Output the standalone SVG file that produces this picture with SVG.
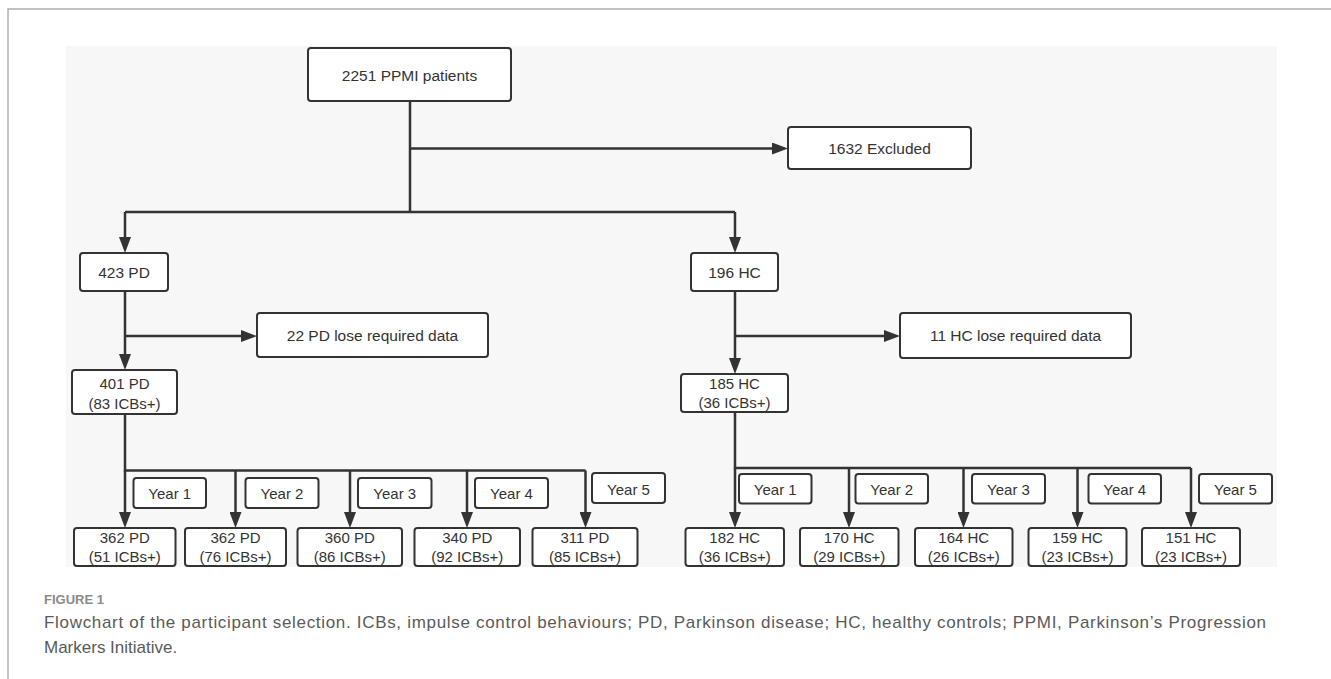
<svg xmlns="http://www.w3.org/2000/svg" width="1331" height="679" viewBox="0 0 1331 679">
<defs>
<marker id="ah" markerWidth="16" markerHeight="12" refX="8" refY="6" orient="auto" markerUnits="userSpaceOnUse"><path d="M0,0 L16,6 L0,12 z" fill="#333"/></marker>
<style>
.box{fill:#fff;stroke:#333;stroke-width:2;}
.t{font-family:"Liberation Sans",Arial,sans-serif;font-size:15.5px;fill:#333;text-anchor:middle;}
.s{font-family:"Liberation Sans",Arial,sans-serif;font-size:15px;fill:#333;text-anchor:middle;}
.ln{fill:none;stroke:#333;stroke-width:2.5;}
.arr{fill:none;stroke:#333;stroke-width:2.5;marker-end:url(#ah);}
.cap{font-family:"Liberation Sans",Arial,sans-serif;font-size:17px;fill:#5a5a5a;}
.fig{font-family:"Liberation Sans",Arial,sans-serif;font-size:13px;font-weight:bold;fill:#8a8a8a;}
</style>
</defs>
<rect x="0" y="0" width="1331" height="679" fill="#fff"/>
<path d="M8,679 V9 H1331" fill="none" stroke="#b0b0b0" stroke-width="1.5"/>
<rect x="66" y="46" width="1211" height="521" fill="#f7f7f7"/>

<g id="connectors">
<path class="ln" d="M410,101 V212"/>
<path class="arr" d="M410,148.5 H780"/>
<path class="ln" d="M125,212 H735"/>
<path class="arr" d="M125,212 V245"/>
<path class="arr" d="M735,212 V245"/>
<path class="arr" d="M125,291 V362"/>
<path class="arr" d="M125,336 H249"/>
<path class="arr" d="M735,291 V366"/>
<path class="arr" d="M735,336 H892"/>
<path class="ln" d="M125,414 V470.5 H585.5"/>
<path class="arr" d="M125,470.5 V520"/>
<path class="arr" d="M235.5,470.5 V520"/>
<path class="arr" d="M350,470.5 V520"/>
<path class="arr" d="M467,470.5 V520"/>
<path class="arr" d="M585.5,470.5 V520"/>
<path class="ln" d="M735,412 V468 H1191"/>
<path class="arr" d="M735,468 V520"/>
<path class="arr" d="M849,468 V520"/>
<path class="arr" d="M963.5,468 V520"/>
<path class="arr" d="M1077.5,468 V520"/>
<path class="arr" d="M1191,468 V520"/>
</g>

<g id="n-ppmi"><rect class="box" x="308" y="48" width="203" height="53" rx="3"/><text class="t" x="409.5" y="81">2251 PPMI patients</text></g>
<g id="n-excluded"><rect class="box" x="788" y="127" width="183" height="42" rx="3"/><text class="t" x="879.5" y="153.5">1632 Excluded</text></g>
<g id="n-pd423"><rect class="box" x="80" y="253" width="88" height="38" rx="3"/><text class="t" x="124" y="278">423 PD</text></g>
<g id="n-pd-lost"><rect class="box" x="257" y="313" width="231" height="44" rx="3"/><text class="t" x="372.5" y="341">22 PD lose required data</text></g>
<g id="n-pd401"><rect class="box" x="72" y="370" width="105" height="44" rx="3"/><text class="s" x="124.5" y="388.5">401 PD</text><text class="s" x="124.5" y="408.5">(83 ICBs+)</text></g>
<g id="n-hc196"><rect class="box" x="691" y="253" width="87" height="38" rx="3"/><text class="t" x="734.5" y="278">196 HC</text></g>
<g id="n-hc-lost"><rect class="box" x="900" y="313" width="231" height="45" rx="3"/><text class="t" x="1015.5" y="341">11 HC lose required data</text></g>
<g id="n-hc185"><rect class="box" x="681" y="374" width="107" height="38" rx="3"/><text class="s" x="734.5" y="388.5">185 HC</text><text class="s" x="734.5" y="407.5">(36 ICBs+)</text></g>

<g id="n-pd-y1-label"><rect class="box" x="133.5" y="478" width="72.5" height="30" rx="3"/><text class="s" x="169.75" y="499">Year 1</text></g>
<g id="n-pd-y2-label"><rect class="box" x="245.5" y="478" width="73" height="30" rx="3"/><text class="s" x="282" y="499">Year 2</text></g>
<g id="n-pd-y3-label"><rect class="box" x="358" y="478" width="73.5" height="30" rx="3"/><text class="s" x="394.75" y="499">Year 3</text></g>
<g id="n-pd-y4-label"><rect class="box" x="475" y="478" width="73" height="30" rx="3"/><text class="s" x="511.5" y="499">Year 4</text></g>
<g id="n-pd-y5-label"><rect class="box" x="592" y="473" width="73" height="30" rx="3"/><text class="s" x="628.5" y="494.5">Year 5</text></g>

<g id="n-pd-y1"><rect class="box" x="74" y="528" width="101.5" height="38" rx="3"/><text class="s" x="124.75" y="543">362 PD</text><text class="s" x="124.75" y="562">(51 ICBs+)</text></g>
<g id="n-pd-y2"><rect class="box" x="185" y="528" width="101" height="38" rx="3"/><text class="s" x="235.5" y="543">362 PD</text><text class="s" x="235.5" y="562">(76 ICBs+)</text></g>
<g id="n-pd-y3"><rect class="box" x="297.5" y="528" width="104.5" height="38" rx="3"/><text class="s" x="349.75" y="543">360 PD</text><text class="s" x="349.75" y="562">(86 ICBs+)</text></g>
<g id="n-pd-y4"><rect class="box" x="414.5" y="528" width="105.5" height="38" rx="3"/><text class="s" x="467.25" y="543">340 PD</text><text class="s" x="467.25" y="562">(92 ICBs+)</text></g>
<g id="n-pd-y5"><rect class="box" x="532.5" y="528" width="105" height="38" rx="3"/><text class="s" x="585" y="543">311 PD</text><text class="s" x="585" y="562">(85 ICBs+)</text></g>

<g id="n-hc-y1-label"><rect class="box" x="739" y="474" width="72.5" height="29.5" rx="3"/><text class="s" x="775.25" y="494.5">Year 1</text></g>
<g id="n-hc-y2-label"><rect class="box" x="855.5" y="474" width="72.5" height="29.5" rx="3"/><text class="s" x="891.75" y="494.5">Year 2</text></g>
<g id="n-hc-y3-label"><rect class="box" x="972" y="474" width="73" height="29.5" rx="3"/><text class="s" x="1008.5" y="494.5">Year 3</text></g>
<g id="n-hc-y4-label"><rect class="box" x="1088.5" y="474" width="72.5" height="29.5" rx="3"/><text class="s" x="1124.75" y="494.5">Year 4</text></g>
<g id="n-hc-y5-label"><rect class="box" x="1199" y="474" width="73" height="29.5" rx="3"/><text class="s" x="1235.5" y="494.5">Year 5</text></g>

<g id="n-hc-y1"><rect class="box" x="685.5" y="528" width="98.5" height="38" rx="3"/><text class="s" x="734.75" y="543">182 HC</text><text class="s" x="734.75" y="562">(36 ICBs+)</text></g>
<g id="n-hc-y2"><rect class="box" x="800" y="528" width="98.5" height="38" rx="3"/><text class="s" x="849.25" y="543">170 HC</text><text class="s" x="849.25" y="562">(29 ICBs+)</text></g>
<g id="n-hc-y3"><rect class="box" x="915" y="528" width="97.5" height="38" rx="3"/><text class="s" x="963.75" y="543">164 HC</text><text class="s" x="963.75" y="562">(26 ICBs+)</text></g>
<g id="n-hc-y4"><rect class="box" x="1028.5" y="528" width="98" height="38" rx="3"/><text class="s" x="1077.5" y="543">159 HC</text><text class="s" x="1077.5" y="562">(23 ICBs+)</text></g>
<g id="n-hc-y5"><rect class="box" x="1142" y="528" width="98" height="38" rx="3"/><text class="s" x="1191" y="543">151 HC</text><text class="s" x="1191" y="562">(23 ICBs+)</text></g>

<text class="fig" x="44" y="604">FIGURE 1</text>
<text class="cap" x="44" y="628" textLength="1222" lengthAdjust="spacing">Flowchart of the participant selection. ICBs, impulse control behaviours; PD, Parkinson disease; HC, healthy controls; PPMI, Parkinson’s Progression</text>
<text class="cap" x="44" y="653">Markers Initiative.</text>
</svg>
